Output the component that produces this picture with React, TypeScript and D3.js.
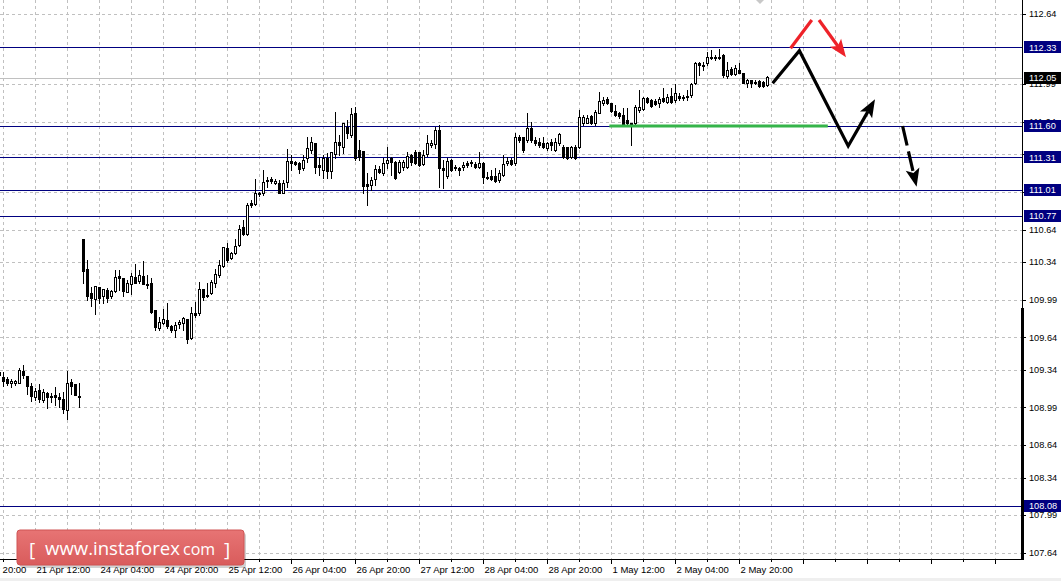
import React from "react";
import * as d3 from "d3";

// H1 bars, one tuple per bar: [open, high, low, close]
const bars: [number, number, number, number][] = [
  // 20-21 Apr
  [109.319, 109.375, 109.273, 109.292], [109.276, 109.322, 109.192, 109.239], [109.254, 109.276, 109.199, 109.220],
  [109.215, 109.252, 109.183, 109.233], [109.217, 109.245, 109.199, 109.233], [109.220, 109.356, 109.217, 109.335],
  [109.331, 109.384, 109.261, 109.292], [109.282, 109.282, 109.115, 109.192], [109.192, 109.215, 109.053, 109.100],
  [109.090, 109.168, 109.060, 109.143], [109.152, 109.205, 109.044, 109.072], [109.060, 109.159, 109.044, 109.131],
  [109.125, 109.131, 108.983, 109.090], [109.097, 109.122, 109.044, 109.085], [109.106, 109.177, 109.013, 109.090],
  [109.085, 109.122, 108.997, 109.072], [109.069, 109.137, 108.936, 108.976], [108.967, 109.329, 108.881, 109.217],
  [109.227, 109.257, 109.115, 109.192], [109.208, 109.208, 109.103, 109.109], [109.094, 109.215, 108.992, 109.087],
  // 24-25 Apr
  [110.553, 110.553, 110.148, 110.259], [110.275, 110.358, 109.987, 110.027], [110.052, 110.111, 109.932, 110.009],
  [109.999, 110.117, 109.855, 110.117], [110.108, 110.108, 109.957, 110.009], [110.024, 110.087, 109.957, 110.087],
  [110.080, 110.096, 109.971, 110.009], [110.022, 110.080, 110.006, 110.071], [110.074, 110.265, 110.064, 110.198],
  [110.210, 110.265, 110.080, 110.191], [110.191, 110.191, 110.024, 110.074], [110.064, 110.173, 110.064, 110.148],
  [110.133, 110.235, 110.043, 110.210], [110.203, 110.318, 110.142, 110.148], [110.166, 110.265, 110.142, 110.219],
  [110.210, 110.349, 110.136, 110.136], [110.136, 110.219, 110.101, 110.129], [110.148, 110.188, 109.869, 109.879],
  [109.894, 109.894, 109.709, 109.740], [109.727, 109.832, 109.709, 109.783], [109.771, 109.901, 109.762, 109.808],
  [109.802, 109.957, 109.730, 109.746], [109.746, 109.755, 109.693, 109.709], [109.709, 109.786, 109.647, 109.755],
  [109.762, 109.802, 109.725, 109.780], [109.771, 109.827, 109.709, 109.817], [109.808, 109.808, 109.591, 109.623],
  [109.632, 109.920, 109.625, 109.864], [109.869, 109.971, 109.832, 109.848], [109.869, 110.157, 109.848, 110.087],
  [110.087, 110.087, 109.987, 110.018], [110.027, 110.142, 110.012, 110.034], [110.049, 110.173, 110.043, 110.157],
  [110.142, 110.272, 110.111, 110.228], [110.219, 110.358, 110.203, 110.312], [110.303, 110.476, 110.296, 110.476],
  [110.467, 110.519, 110.342, 110.358], [110.374, 110.435, 110.365, 110.426], [110.426, 110.550, 110.411, 110.488],
  [110.497, 110.683, 110.488, 110.646], [110.662, 110.729, 110.590, 110.599], [110.599, 110.884, 110.590, 110.868],
  // 25-27 Apr
  [110.890, 110.915, 110.853, 110.868], [110.878, 111.107, 110.868, 110.977], [110.977, 110.992, 110.952, 110.968],
  [110.977, 111.193, 110.961, 111.079], [111.100, 111.131, 111.038, 111.091], [111.107, 111.125, 111.075, 111.094],
  [111.075, 111.107, 111.063, 111.094], [111.070, 111.100, 110.977, 110.983], [110.983, 111.100, 110.977, 111.075],
  [111.085, 111.385, 111.038, 111.279], [111.279, 111.332, 111.193, 111.261], [111.270, 111.279, 111.240, 111.249],
  [111.261, 111.270, 111.162, 111.200], [111.209, 111.332, 111.193, 111.286], [111.302, 111.502, 111.270, 111.394],
  [111.379, 111.502, 111.348, 111.450], [111.446, 111.446, 111.162, 111.224], [111.240, 111.316, 111.147, 111.218],
  [111.193, 111.332, 111.116, 111.302], [111.302, 111.348, 111.116, 111.184], [111.187, 111.363, 111.116, 111.363],
  [111.341, 111.734, 111.302, 111.456], [111.456, 111.518, 111.332, 111.425], [111.409, 111.626, 111.348, 111.626],
  [111.595, 111.657, 111.487, 111.534], [111.518, 111.765, 111.502, 111.713], [111.719, 111.780, 111.286, 111.302],
  [111.379, 111.471, 111.286, 111.316], [111.369, 111.369, 110.977, 111.045], [111.060, 111.162, 110.868, 111.047],
  [111.054, 111.131, 111.008, 111.100], [111.107, 111.240, 111.054, 111.200], [111.200, 111.230, 111.165, 111.177],
  [111.162, 111.302, 111.147, 111.255], [111.261, 111.404, 111.209, 111.286], [111.302, 111.316, 111.147, 111.270],
  [111.270, 111.279, 111.107, 111.116], [111.177, 111.286, 111.162, 111.270], [111.224, 111.286, 111.193, 111.270],
  [111.224, 111.363, 111.209, 111.323], [111.332, 111.341, 111.240, 111.270], [111.363, 111.379, 111.249, 111.261],
  [111.360, 111.363, 111.230, 111.240], [111.249, 111.379, 111.240, 111.332], [111.341, 111.518, 111.323, 111.441],
  [111.425, 111.471, 111.409, 111.446], [111.434, 111.589, 111.394, 111.564], [111.564, 111.611, 111.038, 111.209],
  [111.209, 111.286, 111.023, 111.193], [111.137, 111.302, 111.116, 111.279], [111.286, 111.295, 111.184, 111.193],
  [111.224, 111.240, 111.193, 111.212], [111.209, 111.224, 111.147, 111.193], [111.224, 111.270, 111.193, 111.240],
  [111.261, 111.279, 111.224, 111.240], [111.255, 111.286, 111.230, 111.267], [111.249, 111.270, 111.209, 111.224],
  [111.224, 111.363, 111.209, 111.261], [111.261, 111.270, 111.070, 111.125], [111.131, 111.177, 111.107, 111.119],
  [111.137, 111.193, 111.100, 111.107], [111.137, 111.209, 111.085, 111.094], [111.100, 111.193, 111.085, 111.168],
  [111.147, 111.332, 111.137, 111.249], [111.255, 111.316, 111.240, 111.279], [111.286, 111.302, 111.242, 111.249],
  [111.255, 111.534, 111.240, 111.502], [111.502, 111.518, 111.456, 111.471], [111.502, 111.502, 111.360, 111.379],
  [111.471, 111.719, 111.456, 111.580], [111.580, 111.641, 111.456, 111.471], [111.471, 111.502, 111.425, 111.441],
  [111.456, 111.487, 111.409, 111.425],
  // 28 Apr - 2 May
  [111.446, 111.502, 111.394, 111.409], [111.394, 111.456, 111.379, 111.441], [111.456, 111.478, 111.379, 111.425],
  [111.379, 111.487, 111.372, 111.456], [111.441, 111.534, 111.425, 111.524], [111.409, 111.425, 111.302, 111.316],
  [111.409, 111.409, 111.295, 111.302], [111.316, 111.416, 111.302, 111.404], [111.409, 111.425, 111.295, 111.304],
  [111.404, 111.750, 111.394, 111.688], [111.632, 111.703, 111.611, 111.688], [111.632, 111.703, 111.626, 111.673],
  [111.694, 111.703, 111.620, 111.632], [111.626, 111.750, 111.611, 111.734], [111.725, 111.919, 111.719, 111.836],
  [111.817, 111.873, 111.796, 111.842], [111.849, 111.867, 111.805, 111.817], [111.812, 111.817, 111.734, 111.740],
  [111.740, 111.796, 111.694, 111.703], [111.719, 111.734, 111.673, 111.694], [111.703, 111.765, 111.611, 111.617],
  [111.657, 111.765, 111.617, 111.626], [111.626, 111.626, 111.425, 111.611], [111.626, 111.796, 111.611, 111.780],
  [111.750, 111.935, 111.734, 111.780], [111.756, 111.873, 111.750, 111.858], [111.858, 111.873, 111.817, 111.827],
  [111.842, 111.849, 111.775, 111.787], [111.836, 111.849, 111.796, 111.805], [111.817, 111.873, 111.780, 111.849],
  [111.858, 111.951, 111.827, 111.836], [111.827, 111.898, 111.817, 111.873], [111.880, 111.951, 111.817, 111.827],
  [111.842, 111.991, 111.827, 111.905], [111.880, 111.905, 111.842, 111.858], [111.873, 111.889, 111.842, 111.858],
  [111.880, 111.935, 111.842, 111.867], [111.889, 111.997, 111.873, 111.988], [111.997, 112.198, 111.991, 112.188],
  [112.183, 112.198, 112.074, 112.167], [112.167, 112.198, 112.121, 112.158], [112.183, 112.290, 112.167, 112.238],
  [112.244, 112.306, 112.220, 112.229], [112.244, 112.260, 112.213, 112.232], [112.244, 112.313, 112.220, 112.229],
  [112.260, 112.269, 112.059, 112.074], [112.065, 112.198, 112.044, 112.121], [112.127, 112.151, 112.074, 112.084],
  [112.084, 112.167, 112.074, 112.136], [112.121, 112.183, 112.090, 112.096], [112.096, 112.096, 111.997, 112.003],
  [112.003, 112.034, 111.966, 112.028], [112.028, 112.028, 111.966, 112.003], [112.012, 112.028, 111.990, 111.997],
  [112.021, 112.028, 111.966, 111.972], [112.012, 112.021, 111.966, 111.972], [111.982, 112.065, 111.975, 112.052],
];

const yTicks = [112.64, 111.99, 111.64, 111.34, 110.99, 110.64, 110.34, 109.99, 109.64, 109.34, 108.99, 108.64, 108.34, 107.99, 107.64];
const yTickText = ["112.64", "111.99", "111.64", "111.29", "110.99", "110.64", "110.34", "109.99", "109.64", "109.34", "108.99", "108.64", "108.34", "107.99", "107.64"];

// bar index of each time label (one every 16 bars)
const timeLabelBars = [-7, 9, 25, 41, 57, 73, 89, 105, 121, 137, 153, 169, 185];
const timeLabels = ["20 Apr 20:00", "21 Apr 12:00", "24 Apr 04:00", "24 Apr 20:00", "25 Apr 12:00", "26 Apr 04:00", "26 Apr 20:00",
  "27 Apr 12:00", "28 Apr 04:00", "28 Apr 20:00", "1 May 12:00", "2 May 04:00", "2 May 20:00"];

const levels = [112.33, 111.60, 111.31, 111.01, 110.77, 108.08];
const currentPrice = 112.05;

// forecast drawings, as [bar index, price]
const forecastMain: [number, number][] = [[193.4, 111.997], [200.1, 112.3], [212.3, 111.416], [219, 111.849]];
const forecastUp: [number, number][] = [[197.9, 112.322], [203.2, 112.584]];
const forecastDown: [number, number][] = [[205, 112.584], [211.75, 112.238]];
const forecastBreak: [number, number][] = [[225.9, 111.601], [229.4, 111.038]];
const supportBars = [152.6, 207.2];
const supportPrice = 111.6;

const W = 1061;
const H = 581;
const plotRight = 1022;
const axisY = 560;
const font = "'Liberation Sans', Arial, sans-serif";
const navy = "#000080";

const x = d3.scaleLinear().domain([0, 192]).range([-1, 767]);
const y = d3.scaleLinear().domain([107.64, 112.64]).range([553, 14]);

function Arrow({ pts, color, dash, head = true }: { pts: [number, number][]; color: string; dash?: string; head?: boolean }) {
  let p = pts.map(([b, v]) => [x(b), y(v)] as [number, number]);
  let [x1, y1] = p[p.length - 2];
  let [x2, y2] = p[p.length - 1];
  let a = Math.atan2(y2 - y1, x2 - x1);
  let len = 18, hw = 7;
  let bx = x2 - len * Math.cos(a);
  let by = y2 - len * Math.sin(a);
  let shaft = head ? [...p.slice(0, -1), [bx + 4 * Math.cos(a), by + 4 * Math.sin(a)] as [number, number]] : p;
  let d = d3.line()(shaft) ?? undefined;
  return (
    <g>
      <path d={d} fill="none" stroke={color} strokeWidth={3.2} strokeDasharray={dash} strokeLinejoin="miter" />
      {head && (
        <polygon
          points={[
            [x2, y2],
            [bx + hw * Math.sin(a), by - hw * Math.cos(a)],
            [bx + 4 * Math.cos(a), by + 4 * Math.sin(a)],
            [bx - hw * Math.sin(a), by + hw * Math.cos(a)],
          ].map((q) => q.join(",")).join(" ")}
          fill={color}
        />
      )}
    </g>
  );
}

export default function App() {
  let gridX: number[] = [];
  for (let i = 1; x(i) < plotRight - 2; i += 8) gridX.push(i);

  let px = (v: number) => Math.round(y(v)) + 0.5;

  return (
    <div style={{ position: "absolute", left: 0, top: 0, background: "#fff" }}>
      <svg width={W} height={H} style={{ display: "block", fontFamily: font }}>
        <defs>
          <clipPath id="plot">
            <rect x={0} y={0} width={plotRight} height={axisY} />
          </clipPath>
          <linearGradient id="wm" x1="0" x2="0" y1="0" y2="1">
            <stop offset="0" stopColor="#e77474" />
            <stop offset="1" stopColor="#d95c5c" />
          </linearGradient>
        </defs>
        <rect width={W} height={H} fill="#fff" />
        <rect x={0} y={578} width={W} height={3} fill="#efefef" />

        {/* grid */}
        <g stroke="#c0c0c0" strokeDasharray="3,3" shapeRendering="crispEdges">
          {yTicks.map((t) => (
            <line key={t} x1={0} x2={plotRight} y1={px(t)} y2={px(t)} />
          ))}
          {gridX.map((i) => (
            <line key={i} x1={x(i) + 0.5} x2={x(i) + 0.5} y1={0} y2={axisY} />
          ))}
        </g>

        {/* levels */}
        <g shapeRendering="crispEdges">
          <line x1={0} x2={plotRight} y1={px(currentPrice)} y2={px(currentPrice)} stroke="#c0c0c0" />
          {levels.map((v) => (
            <line key={v} x1={0} x2={plotRight} y1={px(v)} y2={px(v)} stroke={navy} />
          ))}
        </g>

        {/* candles */}
        <g clipPath="url(#plot)" shapeRendering="crispEdges">
          {bars.map(([o, h, l, c], i) => {
            let cx = Math.round(x(i));
            let top = Math.round(y(Math.max(o, c)));
            let bot = Math.round(y(Math.min(o, c)));
            let up = c > o;
            return (
              <g key={i}>
                <line x1={cx + 0.5} x2={cx + 0.5} y1={Math.round(y(h))} y2={Math.round(y(l)) + 1} stroke="#000" />
                {up ? (
                  <rect x={cx - 0.5} y={top + 0.5} width={2} height={Math.max(bot - top, 1)} fill="#fff" stroke="#000" />
                ) : (
                  <rect x={cx - 1} y={top} width={3} height={Math.max(bot - top, 0) + 1} fill="#000" />
                )}
              </g>
            );
          })}
        </g>

        {/* forecast drawings */}
        <line
          x1={x(supportBars[0])}
          x2={x(supportBars[1])}
          y1={y(supportPrice)}
          y2={y(supportPrice)}
          stroke="#35b44a"
          strokeWidth={3}
        />
        <Arrow pts={forecastMain} color="#000" />
        <Arrow pts={forecastUp} color="#ee2229" head={false} />
        <Arrow pts={forecastDown} color="#ee2229" />
        <Arrow pts={forecastBreak} color="#000" dash="20,6" />
        <polygon
          points={`${x(190.25) - 4},0 ${x(190.25) + 4},0 ${x(190.25)},4`}
          fill="#c8c8c8"
        />

        {/* right axis */}
        <g shapeRendering="crispEdges">
          <line x1={plotRight + 0.5} x2={plotRight + 0.5} y1={0} y2={axisY} stroke="#000" />
          <rect x={plotRight - 1} y={308} width={3} height={axisY - 308} fill="#000" />
          {yTicks.map((t) => (
            <line key={t} x1={plotRight} x2={plotRight + 4} y1={px(t)} y2={px(t)} stroke="#000" />
          ))}
        </g>
        <g fontSize={9.2} fill="#000">
          {yTicks.map((t, k) => (
            <text key={t} x={1029} y={y(t)} dy="0.35em">
              {yTickText[k]}
            </text>
          ))}
        </g>
        <g fontSize={9.2}>
          {levels.map((v) => (
            <g key={v}>
              <rect x={plotRight + 2} y={Math.round(y(v)) - 6} width={W - plotRight - 2} height={12} fill={navy} />
              <text x={1029} y={y(v)} dy="0.35em" fill="#fff">
                {v.toFixed(2)}
              </text>
            </g>
          ))}
          <rect x={plotRight + 2} y={Math.round(y(currentPrice)) - 6} width={W - plotRight - 2} height={12} fill="#000" />
          <text x={1029} y={y(currentPrice)} dy="0.35em" fill="#fff">
            {currentPrice.toFixed(2)}
          </text>
        </g>

        {/* bottom axis */}
        <g shapeRendering="crispEdges" stroke="#000">
          <line x1={0} x2={plotRight + 1} y1={axisY - 0.5} y2={axisY - 0.5} />
          {gridX.map((i, k) => (
            <line key={i} x1={x(i) + 0.5} x2={x(i) + 0.5} y1={axisY} y2={axisY + (k % 2 === 1 ? 4 : 2)} />
          ))}
        </g>

        {/* watermark */}
        <rect x={20} y={533} width={226} height={35} rx={3} fill="#000" opacity={0.18} />
        <rect x={17} y={530} width={227} height={35} rx={3} fill="url(#wm)" stroke="#cf5454" />
        <g fill="#fff" fontFamily="'Open Sans', 'Noto Sans', sans-serif">
          <text x={29} y={556} fontSize={19}>[</text>
          <text x={45} y={555} fontSize={18.5} textLength={135} lengthAdjust="spacingAndGlyphs">www.instaforex</text>
          <text x={183} y={555} fontSize={16}>com</text>
          <text x={224} y={556} fontSize={19}>]</text>
        </g>

        <g fontSize={9.5} fill="#000">
          {timeLabelBars.map((b, k) => (
            <text key={b} x={x(b) + 1.5} y={572.5}>
              {timeLabels[k]}
            </text>
          ))}
        </g>
      </svg>
    </div>
  );
}
